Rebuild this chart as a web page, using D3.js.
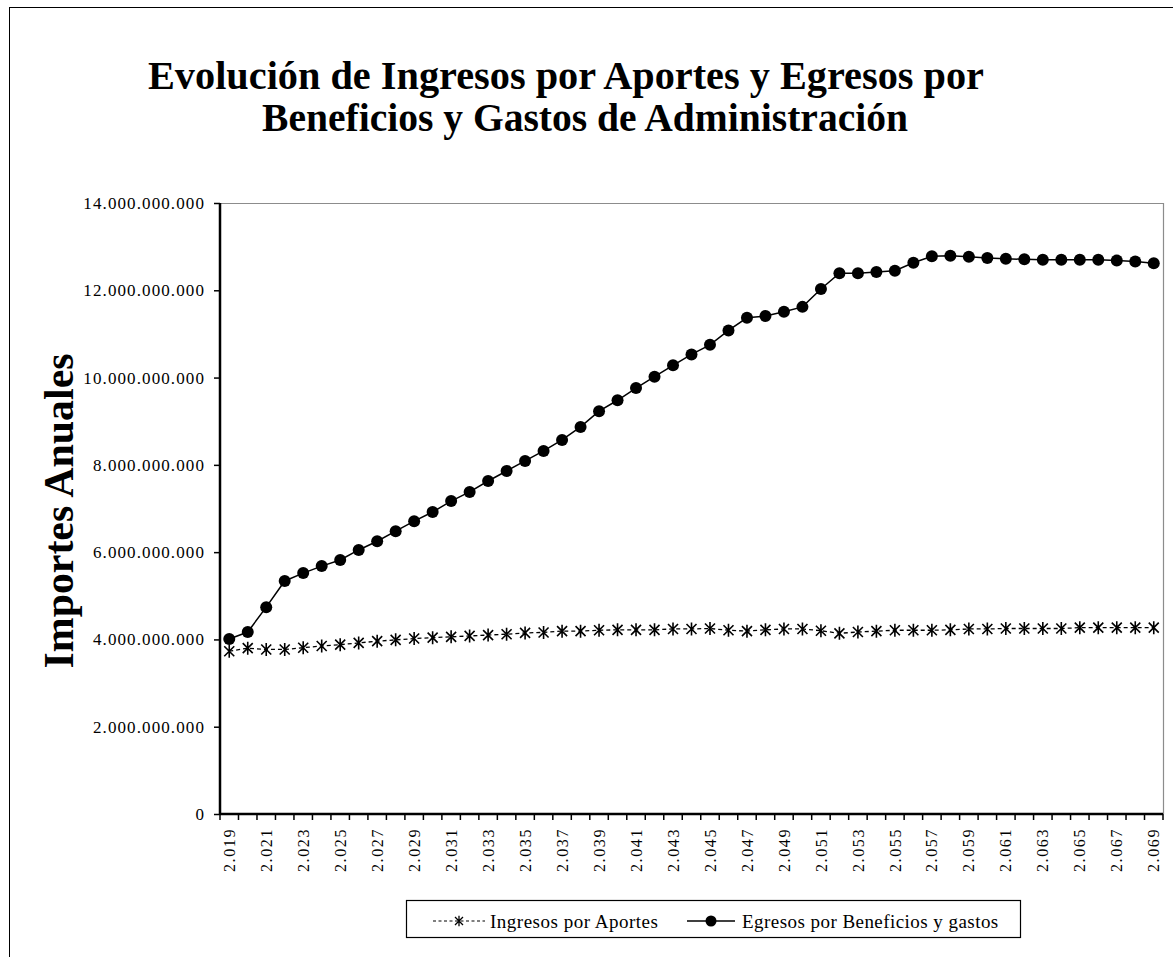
<!DOCTYPE html>
<html>
<head>
<meta charset="utf-8">
<script src="https://cdnjs.cloudflare.com/ajax/libs/d3/7.8.5/d3.min.js"></script>
<style>
  body { margin: 0; background: #fff; }
  svg text { font-family: "Liberation Serif", "Times New Roman", serif; fill: #000; }
</style>
</head>
<body>
<div id="chart"></div>
<script>
// categories (years)
var years = [2019, 2020, 2021, 2022, 2023, 2024, 2025, 2026, 2027, 2028,
             2029, 2030, 2031, 2032, 2033, 2034, 2035, 2036, 2037, 2038,
             2039, 2040, 2041, 2042, 2043, 2044, 2045, 2046, 2047, 2048,
             2049, 2050, 2051, 2052, 2053, 2054, 2055, 2056, 2057, 2058,
             2059, 2060, 2061, 2062, 2063, 2064, 2065, 2066, 2067, 2068, 2069];

// Ingresos por Aportes
var ingresos = [3730000000, 3800000000, 3770000000, 3770000000, 3810000000, 3850000000, 3880000000, 3920000000, 3960000000, 3990000000,
                4020000000, 4040000000, 4060000000, 4080000000, 4100000000, 4120000000, 4150000000, 4160000000, 4190000000, 4190000000,
                4210000000, 4220000000, 4220000000, 4220000000, 4240000000, 4240000000, 4250000000, 4210000000, 4190000000, 4220000000,
                4240000000, 4240000000, 4200000000, 4140000000, 4170000000, 4190000000, 4210000000, 4210000000, 4210000000, 4220000000,
                4240000000, 4240000000, 4250000000, 4250000000, 4250000000, 4250000000, 4270000000, 4270000000, 4270000000, 4270000000, 4270000000];

// Egresos por Beneficios y gastos
var egresos = [4010000000, 4170000000, 4740000000, 5340000000, 5520000000, 5680000000, 5820000000, 6050000000, 6250000000, 6480000000,
               6710000000, 6920000000, 7170000000, 7380000000, 7630000000, 7860000000, 8090000000, 8320000000, 8570000000, 8870000000,
               9230000000, 9480000000, 9760000000, 10020000000, 10280000000, 10530000000, 10750000000, 11080000000, 11370000000, 11410000000,
               11510000000, 11620000000, 12030000000, 12390000000, 12390000000, 12420000000, 12450000000, 12630000000, 12780000000, 12790000000,
               12770000000, 12740000000, 12720000000, 12710000000, 12700000000, 12700000000, 12700000000, 12700000000, 12680000000, 12660000000, 12620000000];

var yTicks = [0, 2000000000, 4000000000, 6000000000, 8000000000, 10000000000, 12000000000, 14000000000];

var seriesNames = ["Ingresos por Aportes", "Egresos por Beneficios y gastos"];

var W = 1173, H = 957;
var plot = {left: 220, right: 1163, top: 203, bottom: 814};

var locale = d3.formatLocale({decimal: ",", thousands: ".", grouping: [3], currency: ["", ""]});
var fmt = locale.format(",.0f");

var svg = d3.select("#chart").append("svg")
    .attr("width", W)
    .attr("height", H);

// chart area frame
svg.append("rect")
    .attr("x", 9.5).attr("y", 7.5)
    .attr("width", 1300).attr("height", 1200)
    .attr("fill", "#fff")
    .attr("stroke", "#000")
    .attr("stroke-width", 1);

// title (condensed bold serif, like the original)
var title = svg.append("text")
    .attr("text-anchor", "middle")
    .style("font-size", "39px")
    .style("font-weight", "bold");
title.append("tspan").attr("x", 566).attr("y", 89)
    .attr("textLength", 836).attr("lengthAdjust", "spacingAndGlyphs")
    .text("Evolución de Ingresos por Aportes y Egresos por");
title.append("tspan").attr("x", 585).attr("y", 131)
    .attr("textLength", 646).attr("lengthAdjust", "spacingAndGlyphs")
    .text("Beneficios y Gastos de Administración");

// scales
var x = d3.scaleBand()
    .domain(years)
    .range([plot.left, plot.right]);

var y = d3.scaleLinear()
    .domain([0, 14000000000])
    .range([plot.bottom, plot.top]);

// plot area border (top / right grey)
svg.append("path")
    .attr("d", "M" + plot.left + "," + (plot.top + 0.5) + "H" + (plot.right + 0.5) + "V" + plot.bottom)
    .attr("fill", "none")
    .attr("stroke", "#8c8c8c")
    .attr("stroke-width", 1.2);

// Y axis
var yAxis = svg.append("g")
    .attr("transform", "translate(" + plot.left + ",0)")
    .call(d3.axisLeft(y).tickValues(yTicks).tickFormat(fmt).tickSize(6).tickPadding(9));
yAxis.select(".domain").attr("stroke", "#000").attr("stroke-width", 2.5)
    .attr("d", "M0," + plot.top + "V" + plot.bottom);
yAxis.selectAll(".tick line").attr("stroke", "#000").attr("stroke-width", 1.5);
yAxis.selectAll(".tick text")
    .style("font-size", "17px")
    .style("letter-spacing", "1.1px")
    .style("font-family", "Liberation Serif");

// X axis
var xAxis = svg.append("g")
    .attr("transform", "translate(0," + plot.bottom + ")")
    .call(d3.axisBottom(x)
        .tickValues(years.filter(function(d, i) { return i % 2 === 0; }))
        .tickFormat(function(d) { return fmt(d); })
        .tickSize(0));
xAxis.select(".domain").attr("stroke", "#000").attr("stroke-width", 2.5)
    .attr("d", "M" + plot.left + ",0H" + plot.right);
xAxis.selectAll(".tick text")
    .attr("transform", "rotate(-90)")
    .attr("x", -14)
    .attr("y", 0)
    .attr("dy", "0.35em")
    .style("text-anchor", "end")
    .style("font-size", "16px")
    .style("letter-spacing", "1.6px")
    .style("font-family", "Liberation Serif");

// x tick marks at category boundaries
xAxis.selectAll(".bound")
    .data(years.concat(["end"]))
    .enter().append("line")
    .attr("class", "bound")
    .attr("x1", function(d, i) { return plot.left + i * x.bandwidth(); })
    .attr("x2", function(d, i) { return plot.left + i * x.bandwidth(); })
    .attr("y1", 0)
    .attr("y2", 6)
    .attr("stroke", "#000")
    .attr("stroke-width", 1.5);

// y axis title
svg.append("text")
    .attr("transform", "translate(73,511) rotate(-90)")
    .attr("text-anchor", "middle")
    .attr("textLength", 315)
    .attr("lengthAdjust", "spacingAndGlyphs")
    .style("font-size", "43px")
    .style("font-weight", "bold")
    .text("Importes Anuales");

var cx = function(d, i) { return x(years[i]) + x.bandwidth() / 2; };

var line = d3.line()
    .x(function(d, i) { return cx(d, i); })
    .y(function(d) { return y(d); });

var asterisk = "M-5,-5L5,5M-5,5L5,-5M0,-6.5L0,6.5";

// Ingresos line (dashed) with asterisks
svg.append("path")
    .datum(ingresos)
    .attr("d", line)
    .attr("fill", "none")
    .attr("stroke", "#000")
    .attr("stroke-width", 1.3)
    .attr("stroke-dasharray", "4,3");

svg.append("g").selectAll("path")
    .data(ingresos)
    .enter().append("path")
    .attr("transform", function(d, i) { return "translate(" + cx(d, i) + "," + y(d) + ")"; })
    .attr("d", asterisk)
    .attr("fill", "none")
    .attr("stroke", "#000")
    .attr("stroke-width", 1.6);

// Egresos line with filled circles
svg.append("path")
    .datum(egresos)
    .attr("d", line)
    .attr("fill", "none")
    .attr("stroke", "#000")
    .attr("stroke-width", 1.5);

svg.append("g").selectAll("circle")
    .data(egresos)
    .enter().append("circle")
    .attr("cx", cx)
    .attr("cy", function(d) { return y(d); })
    .attr("r", 6)
    .attr("fill", "#000");

// legend
var legend = svg.append("g");
legend.append("rect")
    .attr("x", 406.5).attr("y", 900.5)
    .attr("width", 614).attr("height", 37)
    .attr("fill", "#fff")
    .attr("stroke", "#000")
    .attr("stroke-width", 1.2);

var lg1 = legend.append("g").attr("transform", "translate(433,921)");
lg1.append("line").attr("x1", 0).attr("x2", 52).attr("stroke", "#000")
    .attr("stroke-width", 1.2).attr("stroke-dasharray", "3,2.5");
lg1.append("path").attr("transform", "translate(26,0) scale(0.8)").attr("d", asterisk)
    .attr("fill", "none").attr("stroke", "#000").attr("stroke-width", 1.6);
lg1.append("text").attr("x", 57).attr("dy", "0.35em")
    .style("font-size", "19px").style("letter-spacing", "0.5px").text(seriesNames[0]);

var lg2 = legend.append("g").attr("transform", "translate(687,921)");
lg2.append("line").attr("x1", 0).attr("x2", 48).attr("stroke", "#000").attr("stroke-width", 1.5);
lg2.append("circle").attr("cx", 24).attr("r", 5.5).attr("fill", "#000");
lg2.append("text").attr("x", 55).attr("dy", "0.35em")
    .style("font-size", "19px").style("letter-spacing", "0.45px").text(seriesNames[1]);
</script>
</body>
</html>
